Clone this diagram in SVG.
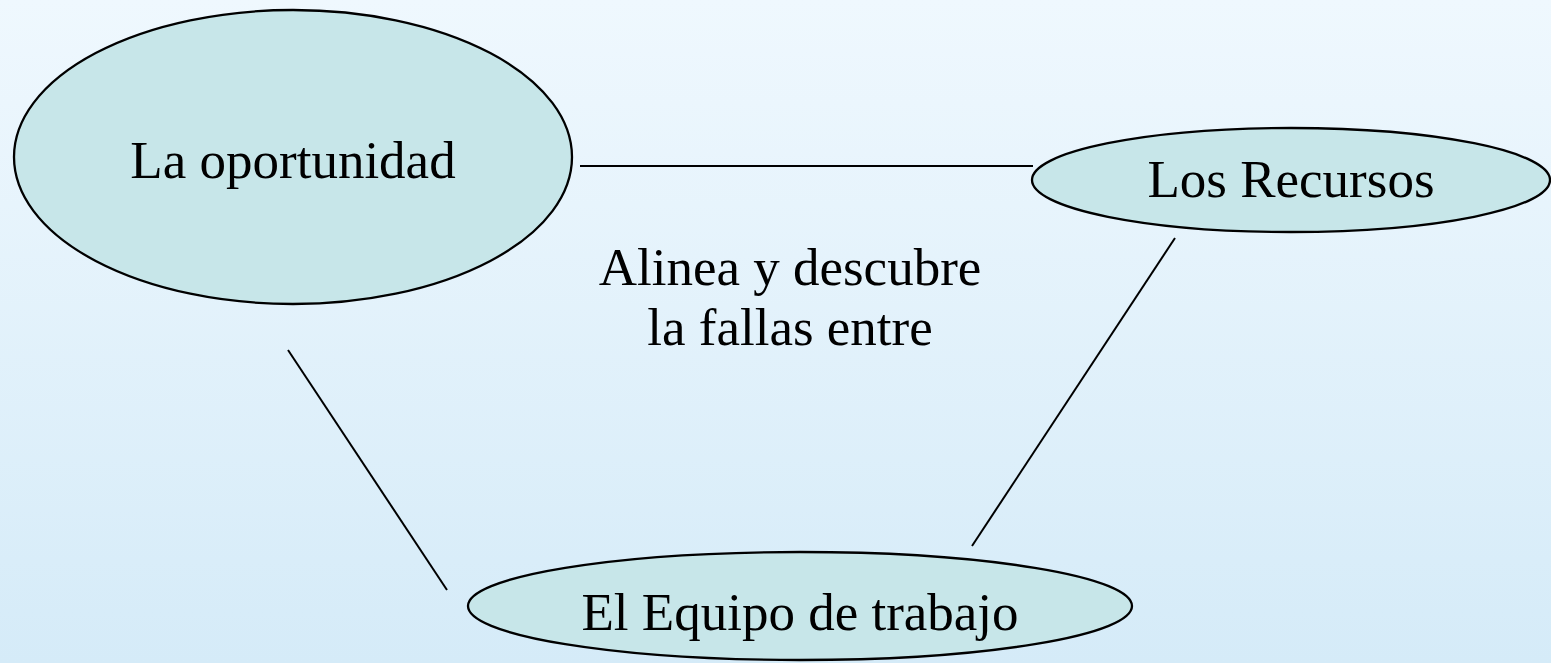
<svg xmlns="http://www.w3.org/2000/svg" width="1551" height="663" viewBox="0 0 1551 663">
<defs>
<linearGradient id="bg" x1="0" y1="0" x2="0" y2="1">
<stop offset="0" stop-color="#eff8fe"/>
<stop offset="1" stop-color="#d5ebf8"/>
</linearGradient>
<style>
.node{fill:#c7e6e9;stroke:#000;stroke-width:2.3}
.lbl{font-family:"Liberation Serif","Times New Roman",serif;font-size:53px;fill:#000;text-anchor:middle}
.conn{stroke:#000;stroke-width:2;fill:none}
</style>
</defs>
<rect width="1551" height="663" fill="url(#bg)"/>
<g id="connectors">
<line class="conn" x1="580" y1="166" x2="1033" y2="166"/>
<line class="conn" x1="288" y1="350" x2="447" y2="590"/>
<line class="conn" x1="1175" y1="238" x2="972" y2="546"/>
</g>
<g id="oportunidad">
<ellipse class="node" cx="293" cy="157" rx="279" ry="147"/>
<text class="lbl" x="293" y="178">La oportunidad</text>
</g>
<g id="recursos">
<ellipse class="node" cx="1291" cy="180" rx="259" ry="52"/>
<text class="lbl" x="1291" y="197">Los Recursos</text>
</g>
<g id="equipo">
<ellipse class="node" cx="800" cy="606" rx="332" ry="54"/>
<text class="lbl" x="800" y="630">El Equipo de trabajo</text>
</g>
<g id="label">
<text class="lbl" x="790" y="285">Alinea y descubre</text>
<text class="lbl" x="790" y="345">la fallas entre</text>
</g>
</svg>
